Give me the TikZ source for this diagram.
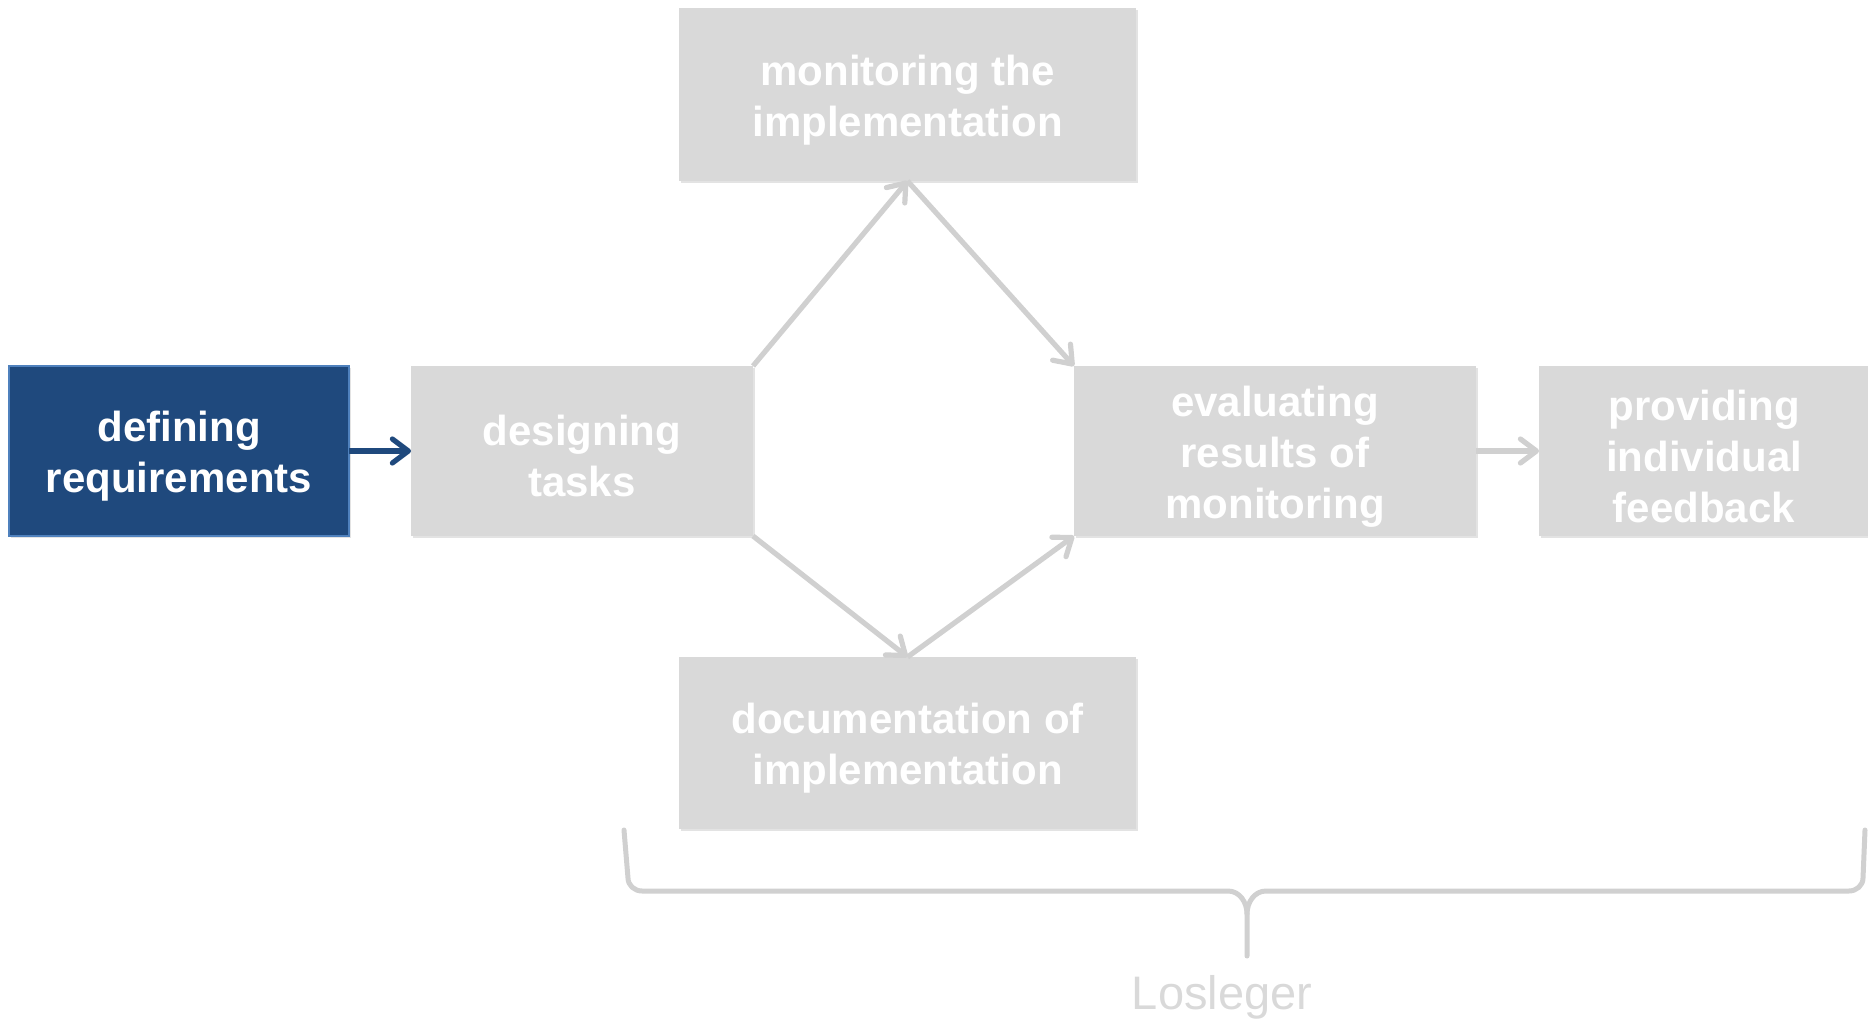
\documentclass[tikz,border=0pt]{standalone}
\usepackage{fontspec}
\setmainfont{Liberation Sans}
\usetikzlibrary{positioning, arrows.meta, shadows}

\definecolor{reqblue}{HTML}{1F497D}
\definecolor{reqedge}{HTML}{4F81BD}
\definecolor{stepgray}{HTML}{D9D9D9}
\definecolor{flowgray}{HTML}{D0D0D0}

\newcommand{\lowstrut}{\rule{0pt}{20.5pt}}

\tikzset{
  stepbox/.style={fill=stepgray, text=white, align=center, inner sep=0pt, outer sep=0pt,
    font=\bfseries\fontsize{21}{25.5}\selectfont, minimum height=85pt,
    drop shadow={shadow xshift=0.8pt, shadow yshift=-1.2pt, opacity=0.22}},
  reqbox/.style={stepbox, fill=reqblue, draw=reqedge, line width=0.8pt},
  flow/.style={draw=flowgray, line width=2.6pt, -{Straight Barb[length=8pt, width=12pt, round]}},
  reqflow/.style={flow, draw=reqblue},
  bracket/.style={draw=flowgray, line width=2.5pt, line cap=round, line join=round}
}

\begin{document}
\begin{tikzpicture}[x=0.5pt, y=-0.5pt]
  \useasboundingbox (0,0) rectangle (1868,1021);

  \node[reqbox, minimum width=170pt] (req) at (179,451) {\lowstrut defining\\requirements};
  \node[stepbox, minimum width=171pt, right=31pt of req] (design) {\lowstrut designing\\tasks};
  \node[stepbox, minimum width=201pt, right=160.5pt of design] (eval) {\lowstrut evaluating\\results of\\monitoring};
  \node[stepbox, minimum width=165pt, right=31.5pt of eval] (provide) {\lowstrut providing\\individual\\feedback};
  \node[stepbox, minimum width=228.5pt, minimum height=86.5pt] (monitor) at (907.5,94.5) {\lowstrut monitoring the\\implementation};
  \node[stepbox, minimum width=228.5pt, minimum height=86pt] (doc) at (907.5,743) {\lowstrut documentation of\\implementation};

  \draw[reqflow] (req) -- (design);
  \draw[flow] (design.north east) -- (monitor.south);
  \draw[flow] (monitor.south) -- (eval.north west);
  \draw[flow] (design.south east) -- (doc.north);
  \draw[flow] (doc.north) -- (eval.south west);
  \draw[flow] (eval) -- (provide);

  % brace under the steps
  \draw[bracket] (624,830) -- (628,878) to[out=-90,in=180] (642,891) -- (1228,891)
    to[out=0,in=90] (1247,914) -- (1247,956);
  \draw[bracket] (1865,830) -- (1863,878) to[out=-90,in=0] (1849,891) -- (1266,891)
    to[out=180,in=90] (1247,914);
  \node[text=stepgray, font=\fontsize{23.5}{28}\selectfont, anchor=base] (losleger) at (1222,1009) {Losleger};
\end{tikzpicture}
\end{document}
